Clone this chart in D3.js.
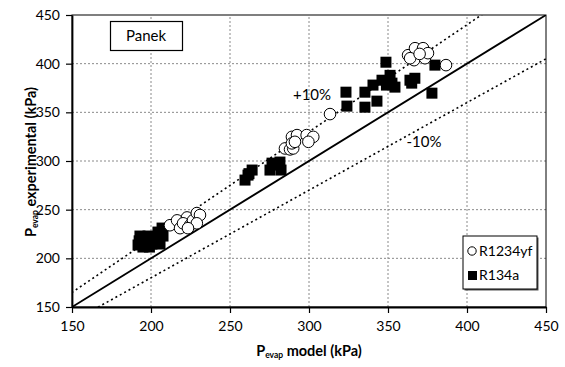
<!DOCTYPE html>
<html>
<head>
<meta charset="utf-8">
<script src="https://cdn.jsdelivr.net/npm/d3@7"></script>
<style>
    body { margin: 0; background: #fff; }
    svg { font-family: Lato, "Open Sans", sans-serif; }
</style>
</head>
<body>
<div id="chart"></div>
<script>
// Axis ticks
const xTicks = [150, 200, 250, 300, 350, 400, 450];
const yTicks = [150, 200, 250, 300, 350, 400, 450];

// R1234yf: [model, experimental]
const r1234yf = [
    [212, 234], [216.5, 239], [218.4, 231], [222.8, 242], [220.3, 236], [224.7, 234],
    [226.6, 239], [229, 246.5], [231, 244.5], [229, 236], [223.4, 231],
    [289.2, 324.8], [292.4, 326.6], [284.8, 312.9], [288, 311.9], [290, 312.9],
    [289.2, 318.1], [291.1, 319.7], [298.5, 326.6], [302.7, 324.8], [299.6, 319.7],
    [313.3, 348.2],
    [362.7, 408.7], [367.1, 415.9], [372.2, 415.9], [366.5, 403.6], [373.4, 405.6],
    [375.3, 410.8], [364, 405.6], [370, 410], [386.7, 398.5]
];

// R134a: [model, experimental]
const r134a = [
    [191.8, 213.7], [193, 222.9], [196.2, 216.7], [198.1, 222.9], [200.6, 214.7],
    [202.5, 220.8], [204.4, 227], [205.7, 214.7], [207.6, 222.9], [207, 231.1],
    [203.8, 218.8], [194.9, 211.6], [192.5, 218], [199, 211.6],
    [259.5, 280.4], [261.4, 285.5], [264, 290.7], [262, 287],
    [275.3, 290.7], [278.5, 295.8], [281.6, 298.9], [276.6, 297.8], [282.3, 290.7],
    [323.4, 370.7], [324, 356.4], [335.4, 370.7], [335.4, 355.3], [343, 361.5],
    [340.5, 378], [348.7, 401.5], [346.2, 383], [351.3, 388], [352.5, 380],
    [354.4, 375.9], [363.9, 383], [367, 385], [365, 380], [377.8, 369.7], [379.7, 398.5],
    [349, 378]
];

// Reference lines (factor on the 1:1 line)
const refLines = [
    {factor: 1.0, dash: null, label: null},
    {factor: 1.1, dash: '2,3', label: '+10%'},
    {factor: 0.9, dash: '2,3', label: '-10%'}
];

const width = 565, height = 367;
const margin = {top: 15, right: 19, bottom: 60, left: 72};

const svg = d3.select('#chart')
    .append('svg')
    .attr('width', width)
    .attr('height', height);

const x = d3.scaleLinear().domain([150, 450]).range([margin.left, width - margin.right]);
const y = d3.scaleLinear().domain([150, 450]).range([height - margin.bottom, margin.top]);

const clipId = 'plot-clip';
svg.append('clipPath').attr('id', clipId)
    .append('rect')
    .attr('x', x(150)).attr('y', y(450))
    .attr('width', x(450) - x(150)).attr('height', y(150) - y(450));

// Grid lines
svg.append('g')
    .selectAll('line')
    .data(xTicks.slice(1, -1))
    .enter()
    .append('line')
    .attr('x1', d => x(d)).attr('x2', d => x(d))
    .attr('y1', y(150)).attr('y2', y(450))
    .attr('stroke', '#8a8a8a')
    .attr('stroke-dasharray', '2,2')
    .attr('stroke-width', 1);

svg.append('g')
    .selectAll('line')
    .data(yTicks.slice(1, -1))
    .enter()
    .append('line')
    .attr('x1', x(150)).attr('x2', x(450))
    .attr('y1', d => y(d)).attr('y2', d => y(d))
    .attr('stroke', '#8a8a8a')
    .attr('stroke-dasharray', '2,2')
    .attr('stroke-width', 1);

// Frame
svg.append('rect')
    .attr('x', x(150)).attr('y', y(450))
    .attr('width', x(450) - x(150)).attr('height', y(150) - y(450))
    .attr('fill', 'none')
    .attr('stroke', '#000')
    .attr('stroke-width', 1);

// 1:1 and +/-10% lines
const plot = svg.append('g').attr('clip-path', `url(#${clipId})`);
refLines.forEach(r => {
    plot.append('line')
        .attr('x1', x(100)).attr('y1', y(100 * r.factor))
        .attr('x2', x(500)).attr('y2', y(500 * r.factor))
        .attr('stroke', '#000')
        .attr('stroke-width', r.dash ? 1.6 : 1.8)
        .attr('stroke-dasharray', r.dash);
});

// Data: R134a squares
const sq = 11;
svg.append('g')
    .selectAll('rect')
    .data(r134a)
    .enter()
    .append('rect')
    .attr('x', d => x(d[0]) - sq / 2)
    .attr('y', d => y(d[1]) - sq / 2)
    .attr('width', sq)
    .attr('height', sq)
    .attr('fill', '#000');

// Data: R1234yf circles
svg.append('g')
    .selectAll('circle')
    .data(r1234yf)
    .enter()
    .append('circle')
    .attr('cx', d => x(d[0]))
    .attr('cy', d => y(d[1]))
    .attr('r', 5.8)
    .attr('fill', '#fff')
    .attr('stroke', '#000')
    .attr('stroke-width', 1);

// X axis
svg.append('g')
    .attr('transform', `translate(0,${y(150)})`)
    .call(d3.axisBottom(x).tickValues(xTicks).tickSize(6).tickSizeOuter(0).tickPadding(8))
    .call(g => g.select('.domain').attr('stroke', '#000').attr('stroke-width', 1.8))
    .call(g => g.selectAll('.tick line').attr('stroke', '#000').attr('stroke-width', 1.2))
    .call(g => g.selectAll('text').attr('font-size', '14px').attr('fill', '#000').attr('font-family', 'Lato, sans-serif'));

// Y axis
svg.append('g')
    .attr('transform', `translate(${x(150)},0)`)
    .call(d3.axisLeft(y).tickValues(yTicks).tickSize(6).tickSizeOuter(0).tickPadding(6))
    .call(g => g.select('.domain').attr('stroke', '#000').attr('stroke-width', 1.8))
    .call(g => g.selectAll('.tick line').attr('stroke', '#000').attr('stroke-width', 1.2))
    .call(g => g.selectAll('text').attr('font-size', '14px').attr('fill', '#000').attr('font-family', 'Lato, sans-serif'));

// X label
const xl = svg.append('text')
    .attr('x', 309)
    .attr('y', 356)
    .attr('text-anchor', 'middle')
    .attr('font-size', '14.5px')
    .attr('font-weight', 'bold');
xl.append('tspan').text('P');
xl.append('tspan').attr('font-size', '8.5px').attr('dy', 2).text('evap');
xl.append('tspan').attr('dy', -2).text(' model (kPa)');

// Y label
const yl = svg.append('text')
    .attr('transform', `translate(36,${(y(150) + y(450)) / 2 + 1}) rotate(-90)`)
    .attr('text-anchor', 'middle')
    .attr('font-size', '14.5px')
    .attr('font-weight', 'bold');
yl.append('tspan').text('P');
yl.append('tspan').attr('font-size', '8.5px').attr('dy', 2).text('evap');
yl.append('tspan').attr('dy', -2).text(' experimental (kPa)');

// Line labels
svg.append('text')
    .attr('x', 312).attr('y', 100)
    .attr('text-anchor', 'middle')
    .attr('font-size', '15px')
    .text(refLines[1].label);

svg.append('text')
    .attr('x', 424).attr('y', 147)
    .attr('text-anchor', 'middle')
    .attr('font-size', '15px')
    .text(refLines[2].label);

// Panek box
svg.append('rect')
    .attr('x', 110.5).attr('y', 21.5)
    .attr('width', 72).attr('height', 29)
    .attr('fill', '#fff')
    .attr('stroke', '#000')
    .attr('stroke-width', 1.2);
svg.append('text')
    .attr('x', 146).attr('y', 41)
    .attr('text-anchor', 'middle')
    .attr('font-size', '15px')
    .text('Panek');

// Legend
const lg = svg.append('g').attr('transform', 'translate(463,236)');
lg.append('rect')
    .attr('x', 1.5).attr('y', 1.5)
    .attr('width', 74).attr('height', 53)
    .attr('fill', '#555');
lg.append('rect')
    .attr('x', 0).attr('y', 0)
    .attr('width', 74).attr('height', 53)
    .attr('fill', '#fff')
    .attr('stroke', '#000')
    .attr('stroke-width', 1);
lg.append('circle')
    .attr('cx', 9).attr('cy', 15).attr('r', 4.2)
    .attr('fill', '#fff').attr('stroke', '#000').attr('stroke-width', 1);
lg.append('text')
    .attr('x', 16).attr('y', 20)
    .attr('font-size', '14px')
    .text('R1234yf');
lg.append('rect')
    .attr('x', 5).attr('y', 35).attr('width', 9).attr('height', 9)
    .attr('fill', '#000');
lg.append('text')
    .attr('x', 16).attr('y', 44)
    .attr('font-size', '14px')
    .text('R134a');
</script>
</body>
</html>
